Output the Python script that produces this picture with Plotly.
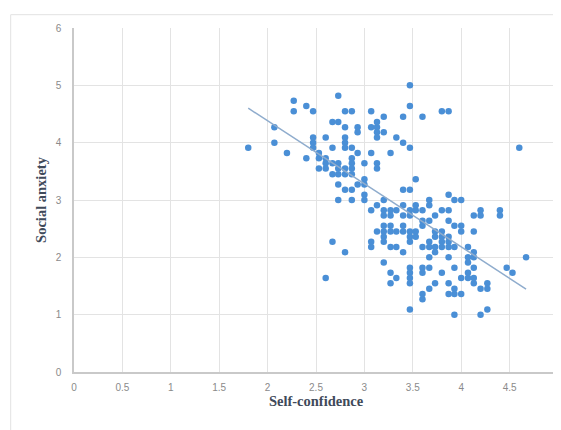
import numpy as np
import plotly.graph_objects as go

# ---- data ----
x_groups = [1.80, 2.07, 2.20, 2.27, 2.40, 2.47, 2.53, 2.60, 2.67, 2.73, 2.80, 2.87, 2.93,
            3.00, 3.07, 3.13, 3.20, 3.27, 3.33, 3.40, 3.47, 3.53, 3.60, 3.67, 3.73, 3.80,
            3.87, 3.93, 4.00, 4.07, 4.13, 4.20, 4.27, 4.40, 4.47, 4.53, 4.60, 4.67]
y_groups = [
    [3.91],
    [4.27, 4.00],
    [3.82],
    [4.73, 4.55],
    [4.64, 3.73],
    [4.55, 4.09, 4.00, 3.91],
    [3.82, 3.73, 3.55],
    [4.09, 3.73, 3.64, 3.55, 1.64],
    [4.36, 3.91, 3.64, 3.45, 2.27],
    [4.82, 4.36, 3.64, 3.55, 3.45, 3.27, 3.00],
    [4.55, 4.27, 4.09, 4.00, 3.91, 3.55, 3.45, 3.18, 2.09],
    [4.55, 3.91, 3.73, 3.64, 3.55, 3.45, 3.18, 3.00],
    [4.27, 4.18, 3.82, 3.27],
    [3.64, 3.36, 3.27, 3.09, 3.00],
    [4.55, 4.27, 3.82, 2.82, 2.27, 2.18],
    [4.36, 4.27, 4.18, 4.09, 3.64, 3.55, 2.91, 2.45],
    [4.45, 4.18, 3.00, 2.82, 2.73, 2.55, 2.45, 2.36, 2.27, 1.91],
    [3.82, 2.82, 2.73, 2.55, 2.45, 2.18, 1.73, 1.55],
    [4.09, 2.82, 2.45, 2.18, 1.64],
    [4.45, 4.00, 3.18, 2.91, 2.73, 2.55, 2.45, 2.09],
    [5.00, 4.64, 3.91, 3.18, 2.82, 2.73, 2.45, 2.36, 2.27, 1.82, 1.73, 1.64, 1.55, 1.09],
    [3.36, 2.91, 2.82, 2.45, 2.36],
    [4.45, 2.82, 2.64, 2.55, 2.18, 1.82, 1.73, 1.36, 1.27],
    [3.00, 2.91, 2.64, 2.27, 2.18, 2.00, 1.82, 1.45],
    [2.73, 2.45, 2.36, 2.18, 2.09, 1.55],
    [4.55, 2.82, 2.45, 2.36, 2.27, 2.18, 1.73],
    [4.55, 3.09, 2.82, 2.64, 2.36, 2.27, 2.18, 2.00, 1.55, 1.36],
    [3.00, 2.55, 2.18, 1.82, 1.45, 1.36, 1.00],
    [3.00, 2.55, 2.45, 1.64, 1.36],
    [2.18, 2.00, 1.91, 1.73, 1.64],
    [2.73, 2.45, 2.09, 2.00, 1.82, 1.64, 1.55],
    [2.82, 2.73, 1.45, 1.00],
    [1.55, 1.45, 1.09],
    [2.82, 2.73],
    [1.82],
    [1.73],
    [3.91],
    [2.00],
]
x_ticks = [0, 0.5, 1, 1.5, 2, 2.5, 3, 3.5, 4, 4.5, 5]
x_tick_text = ["0", "0.5", "1", "1.5", "2", "2.5", "3", "3.5", "4", "4.5", "5"]
y_ticks = [0, 1, 2, 3, 4, 5, 6]

x_vals = [xv for xv, ys in zip(x_groups, y_groups) for _ in ys]
y_vals = [yv for ys in y_groups for yv in ys]

# linear trendline (least squares)
slope, intercept = np.polyfit(x_vals, y_vals, 1)
x_line = [min(x_vals), max(x_vals)]
y_line = [slope * v + intercept for v in x_line]

fig = go.Figure()
fig.add_trace(go.Scatter(
    x=x_vals, y=y_vals, mode="markers",
    marker=dict(size=6.5, color="#4a8fd6", line=dict(width=0)),
    showlegend=False, hoverinfo="skip"))
fig.add_trace(go.Scatter(
    x=x_line, y=y_line, mode="lines",
    line=dict(color="#8faccd", width=1.5),
    showlegend=False, hoverinfo="skip"))

tick_font = dict(family="Liberation Sans", size=10, color="#8a8a8a")
title_font = dict(family="Liberation Serif", size=14.5, color="#3f4a5a")

# the page body adds an 8px offset; figure sized to fill the rest of the window
W, H = 553, 422
L, R, T, B = 66, 3, 20, 58
pw, ph = W - L - R, H - T - B

fig.update_layout(
    width=W, height=H,
    margin=dict(l=L, r=R, t=T, b=B, autoexpand=False),
    paper_bgcolor="white", plot_bgcolor="white",
    xaxis=dict(range=[0, 5], tickvals=x_ticks, ticktext=x_tick_text,
               showgrid=True, gridcolor="#e3e3e3", gridwidth=1,
               zeroline=False, showline=True, linecolor="#c9c9c9", linewidth=1.5,
               ticks="", tickfont=tick_font, ticklabelstandoff=5,
               ticklabeloverflow="allow",
               title=dict(text="<b>Self-confidence</b>", font=title_font, standoff=4)),
    yaxis=dict(range=[0, 6], tickvals=y_ticks,
               showgrid=True, gridcolor="#e3e3e3", gridwidth=1,
               zeroline=False, showline=True, linecolor="#c9c9c9", linewidth=1.5,
               ticks="", tickfont=tick_font, ticklabelstandoff=9,
               ticklabeloverflow="allow",
               title=dict(text="<b>Social anxiety</b>", font=title_font, standoff=6)),
    shapes=[dict(type="rect", xref="paper", yref="paper",
                 x0=(2.7 - L) / pw, x1=(620 - L) / pw,
                 y0=(H - B - 470) / ph, y1=(H - B - 6.7) / ph,
                 line=dict(color="#e2e2e2", width=1), layer="below")],
)

fig.write_html("out.html")
